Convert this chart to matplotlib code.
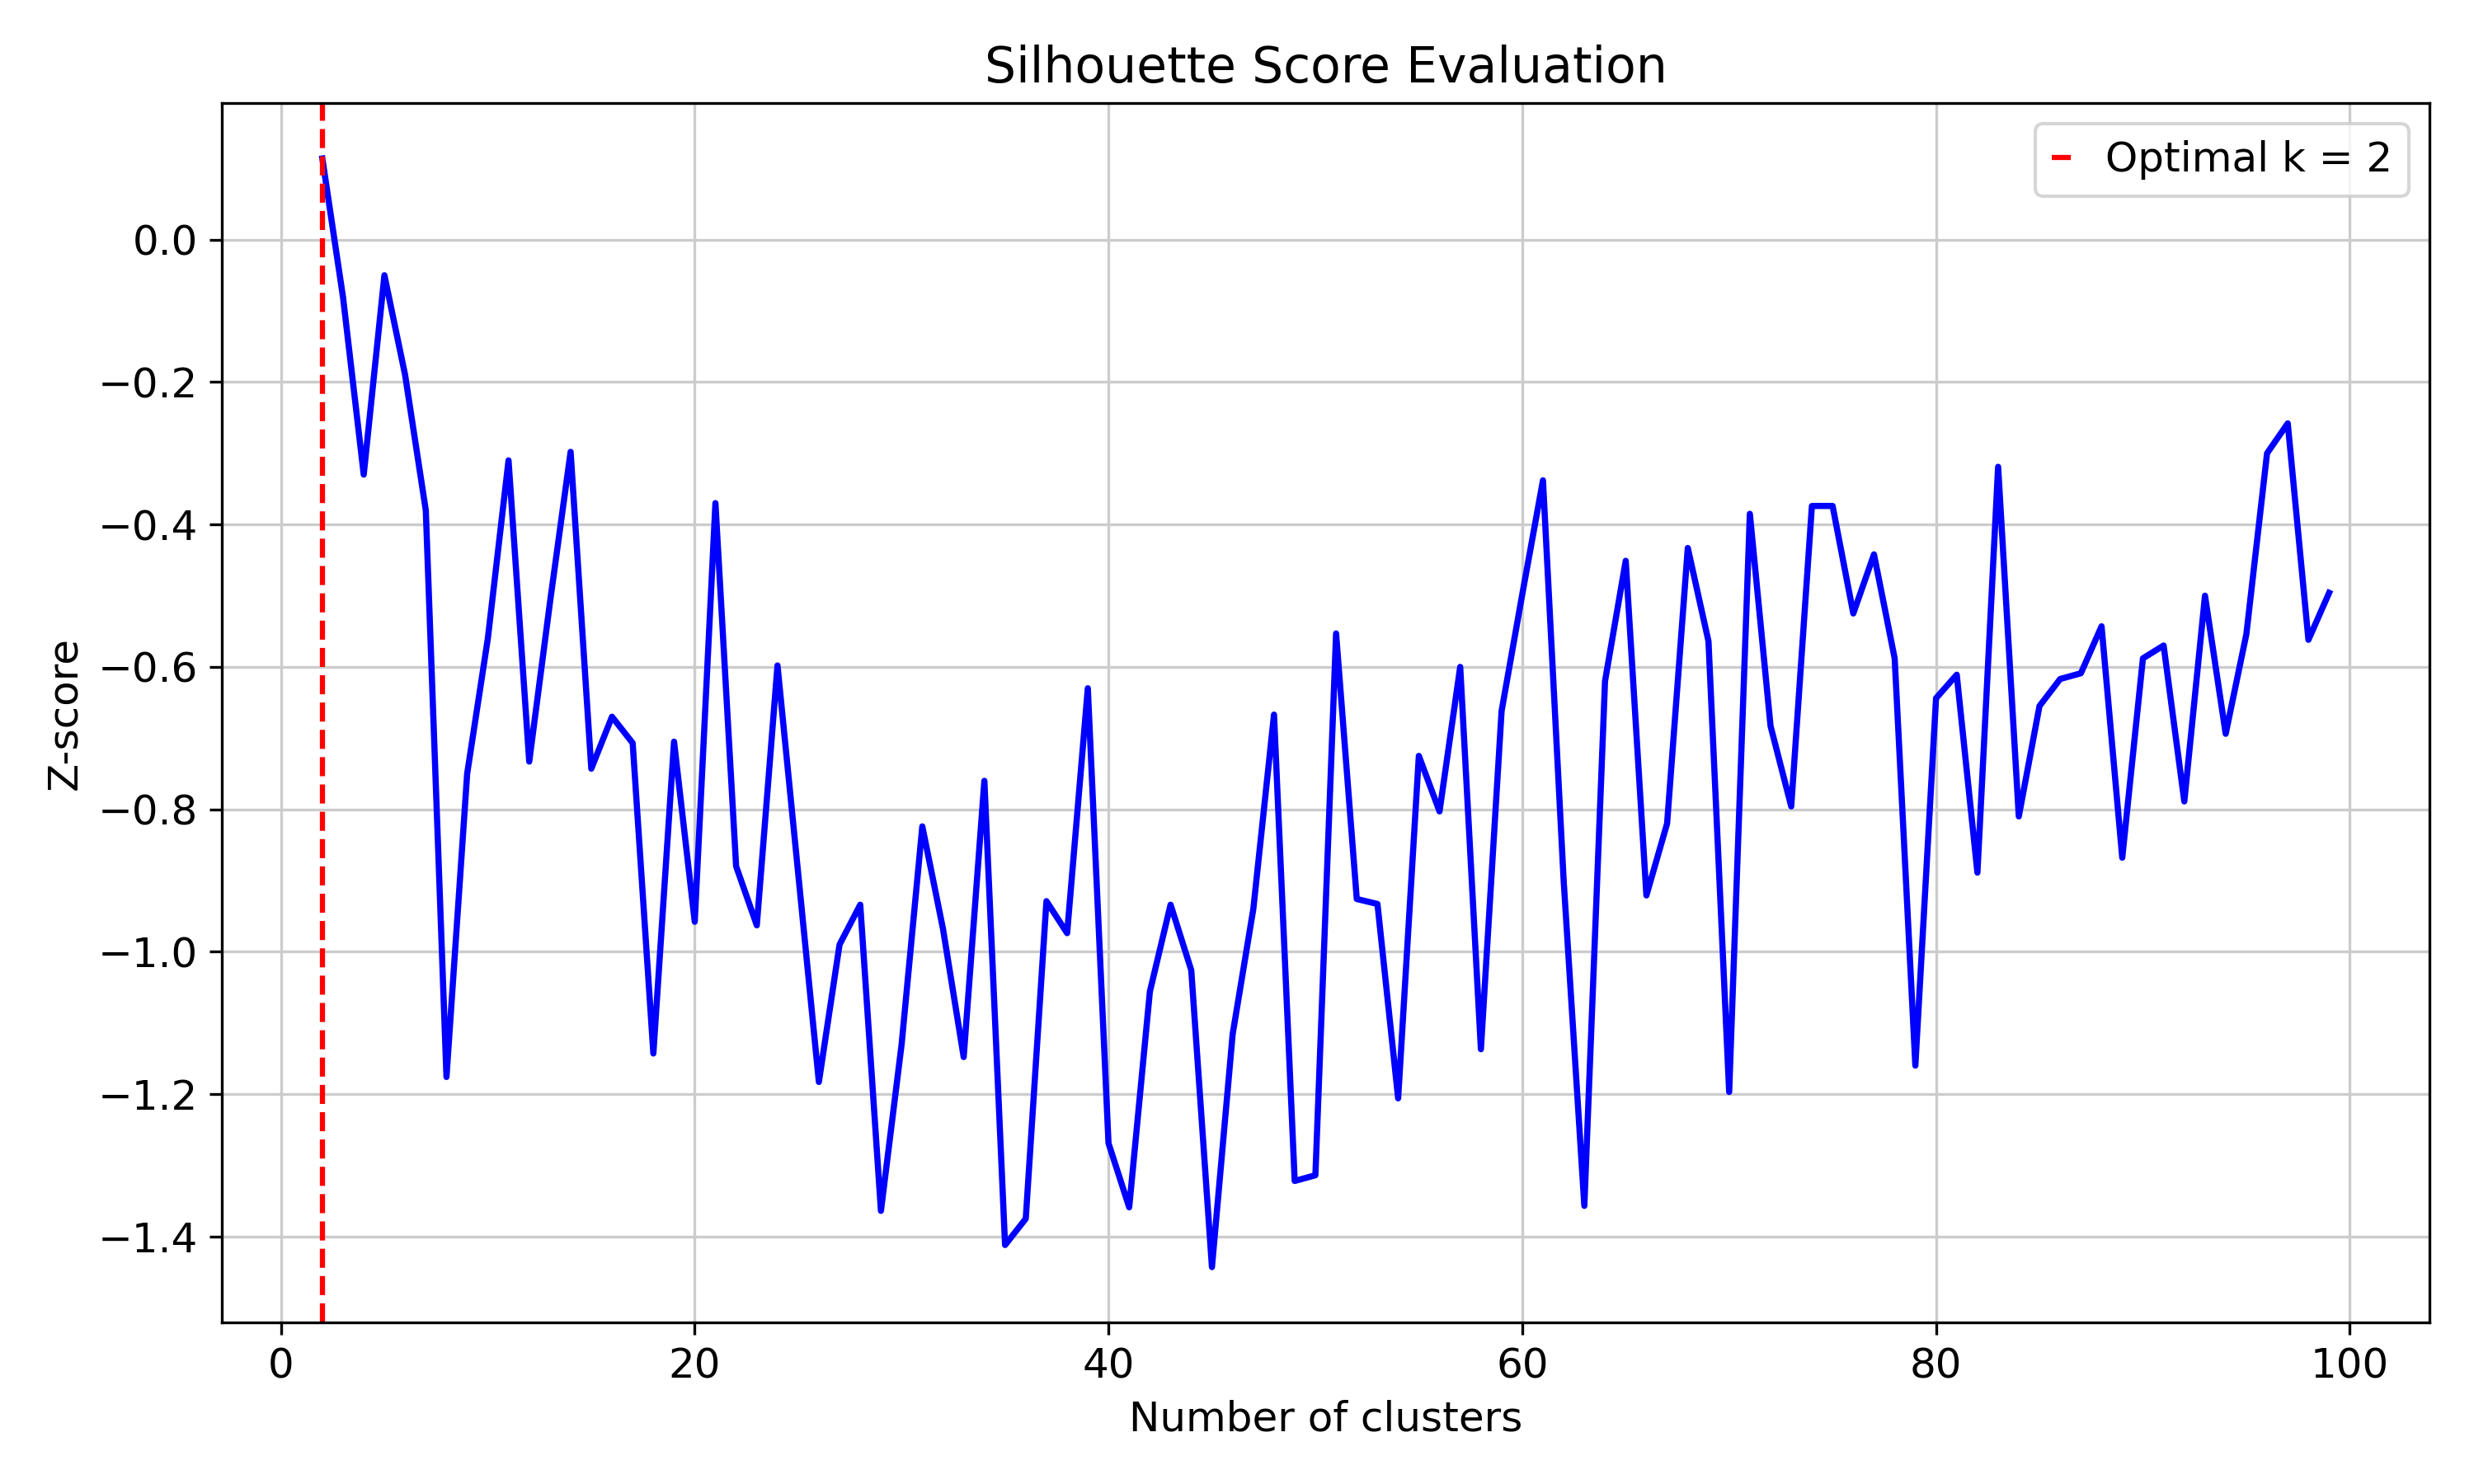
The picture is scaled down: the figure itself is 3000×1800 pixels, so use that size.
import numpy as np
import matplotlib
matplotlib.use("Agg")
import matplotlib.pyplot as plt

# number of clusters tried
k_values = list(range(2, 100))
# z-scored silhouette scores
z_scores = [
  0.114, -0.081, -0.33, -0.05, -0.19, -0.38, -1.176, -0.75, -0.56, -0.31,
  -0.733, -0.51, -0.298, -0.743, -0.67, -0.707, -1.143, -0.705, -0.958, -0.37,
  -0.88, -0.963, -0.598, -0.89, -1.183, -0.99, -0.934, -1.364, -1.13, -0.824,
  -0.968, -1.148, -0.76, -1.412, -1.375, -0.929, -0.974, -0.63, -1.269, -1.359,
  -1.056, -0.934, -1.026, -1.443, -1.116, -0.94, -0.667, -1.322, -1.314, -0.553,
  -0.926, -0.933, -1.206, -0.725, -0.803, -0.60, -1.137, -0.662, -0.498, -0.338,
  -0.90, -1.357, -0.62, -0.451, -0.921, -0.82, -0.433, -0.564, -1.197, -0.385,
  -0.683, -0.796, -0.374, -0.374, -0.525, -0.442, -0.588, -1.16, -0.644, -0.611,
  -0.889, -0.319, -0.81, -0.655, -0.617, -0.609, -0.543, -0.868, -0.588, -0.570,
  -0.789, -0.50, -0.694, -0.554, -0.30, -0.258, -0.562, -0.496,
]
optimal_k = 2

plt.rcParams['font.size'] = 12

fig = plt.figure(figsize=(10, 6), dpi=300)
ax = fig.add_subplot(111)
ax.plot(k_values, z_scores, color='blue', lw=1.8)
ax.axvline(optimal_k, color='red', ls='--', lw=1.5, label='Optimal k = %d' % optimal_k)
ax.set_title("Silhouette Score Evaluation")
ax.set_xlabel("Number of clusters")
ax.set_ylabel("Z-score")
ax.grid(True, color='#cccccc', lw=0.8)
ax.legend(loc='upper right', handlelength=0.5)
fig.tight_layout()
fig.savefig('out.png', dpi=300)
